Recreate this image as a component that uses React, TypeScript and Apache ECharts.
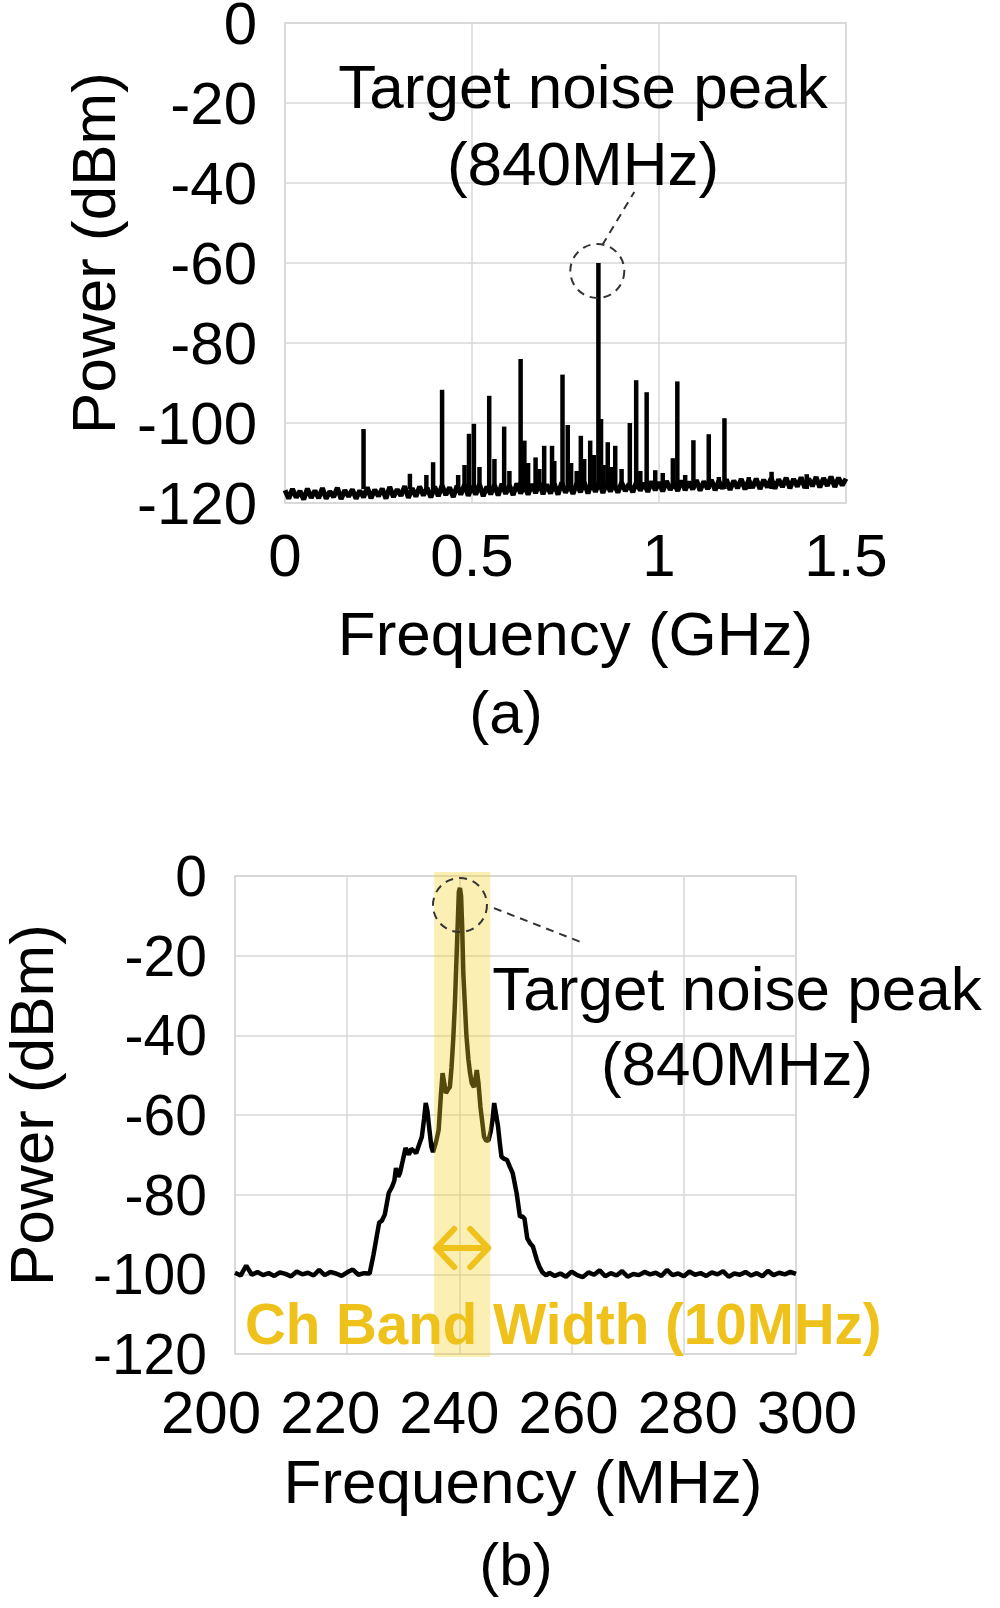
import React, { useEffect, useRef } from "react";
import * as echarts from "echarts";

const FONT = "'Liberation Sans', Arial, Helvetica, sans-serif";
const YELLOW = "#EEC21B";
const GRID_GRAY = "#d9d6d6";

// ---- (a) wide spectrum, 0 - 1.5 GHz ----
const floorAStart = 0;
const floorAStep = 0.01; // GHz
const floorA = [
  -116.8, -118.9, -116.5, -118.6, -117.0, -119.1, -116.4, -118.7, -116.9, -118.8,
  -116.3, -118.9, -117.1, -118.5, -116.2, -119.0, -116.8, -118.4, -116.6, -118.9,
  -116.9, -118.6, -116.1, -118.8, -116.7, -118.3, -116.4, -118.9, -116.0, -118.5,
  -116.6, -118.2, -115.8, -118.7, -116.3, -118.4, -115.9, -118.1, -116.2, -118.6,
  -115.9, -118.3, -115.6, -118.0, -116.1, -118.5, -115.7, -117.9, -115.4, -118.2,
  -115.8, -117.9, -115.3, -118.3, -115.9, -117.8, -115.5, -118.1, -115.2, -117.7,
  -115.6, -118.0, -115.1, -117.6, -115.7, -117.9, -115.3, -117.5, -115.0, -117.8,
  -115.4, -117.6, -115.2, -117.9, -114.9, -117.4, -115.5, -117.7, -115.1, -117.3,
  -114.8, -117.6, -115.0, -117.2, -114.6, -117.5, -114.9, -117.1, -115.3, -117.4,
  -114.9, -117.0, -115.2, -117.3, -114.7, -116.9, -115.0, -117.2, -114.6, -116.8,
  -114.8, -117.1, -114.5, -116.7, -114.9, -117.0, -114.4, -116.8, -114.7, -116.6,
  -114.3, -116.9, -114.6, -116.5, -114.2, -116.8, -114.5, -116.4, -114.1, -116.7,
  -114.4, -116.3, -114.0, -116.6, -114.3, -116.2, -113.9, -116.5, -114.2, -116.1,
  -113.8, -116.4, -114.1, -116.0, -113.7, -116.3, -114.0, -115.9, -113.6, -116.2,
  -113.9, -115.8, -113.5, -116.1, -113.8, -115.7, -113.4, -116.0, -113.7, -115.6,
  -113.9,
];
// [frequency GHz, peak dBm]
const spikesA: [number, number][] = [
  [0.21, -101.5], [0.334, -112.7], [0.378, -113], [0.396, -109.8], [0.42, -91.7],
  [0.463, -113], [0.48, -110.5], [0.492, -102.7], [0.505, -100.2], [0.52, -111],
  [0.546, -93.2], [0.56, -109], [0.586, -100.9], [0.6, -112], [0.63, -84],
  [0.64, -104.4], [0.65, -110], [0.67, -108.6], [0.68, -111.5], [0.693, -105.7],
  [0.714, -105.7], [0.72, -109.5], [0.742, -87.9], [0.756, -100.5], [0.765, -110],
  [0.78, -112], [0.791, -103.2], [0.8, -109], [0.816, -104.4], [0.826, -108],
  [0.838, -60], [0.845, -99], [0.852, -110.5], [0.863, -104.8], [0.872, -111],
  [0.883, -105.7], [0.9, -111.5], [0.922, -100], [0.939, -89.3], [0.95, -112],
  [0.967, -92.3], [0.99, -111.8], [1.01, -112.5], [1.037, -108.8], [1.049, -89.6],
  [1.07, -113], [1.092, -104.3], [1.133, -102.8], [1.16, -113.5], [1.175, -98.8],
  [1.24, -113.5], [1.301, -112.2], [1.395, -112.8],
];
const spikeBaseA = -116.5;
const circleA: [number, number] = [0.835, -62];

// ---- (b) zoomed spectrum, 200 - 300 MHz ----
const floorBLeftStart = 200; // MHz, 1 MHz step
const floorBLeft = [
  -99.6, -100.3, -97.8, -100.1, -99.4, -100.2, -99.7, -100.4, -99.5, -99.9,
  -100.5, -99.3, -100.0, -99.6, -100.3, -98.9, -100.2, -99.4, -99.8, -100.4,
  -99.5, -98.8, -100.1, -99.7,
];
// [frequency MHz, dBm]
const peakB: [number, number][] = [
  [224.0, -99.8], [224.7, -95], [225.2, -91], [225.7, -87], [226.2, -86.5],
  [226.7, -85], [227.4, -79.6], [228.0, -78], [228.4, -76.5], [228.7, -73.3],
  [229.1, -75.5], [229.4, -74.6], [229.9, -71.5], [230.4, -68.3], [231.0, -70],
  [231.4, -68.5], [231.7, -68.8], [232.3, -69.6], [232.8, -67.5], [233.3, -65.5],
  [233.7, -61], [234.0, -57], [234.3, -59], [234.6, -63], [235.0, -68],
  [235.3, -69.3], [235.8, -67], [236.3, -63.8], [236.7, -55], [237.0, -49.5],
  [237.3, -52], [237.6, -54.5], [238.0, -53.5], [238.3, -53], [238.6, -48],
  [238.9, -41], [239.2, -32], [239.4, -24], [239.7, -12], [239.9, -4],
  [240.1, -3], [240.3, -5], [240.5, -13], [240.7, -24.5], [241.0, -33],
  [241.25, -40], [241.6, -46], [241.9, -49.5], [242.2, -52], [242.6, -53],
  [242.9, -50.5], [243.1, -48.7], [243.4, -52], [243.75, -58], [244.1, -62],
  [244.4, -65.5], [244.8, -66.5], [245.2, -66.3], [245.6, -64], [245.9, -61.3],
  [246.2, -57], [246.5, -59.5], [246.9, -63], [247.2, -67], [247.5, -70.5],
  [248.0, -71], [248.5, -71.3], [249.0, -73], [249.5, -74.6], [250.2, -79.6],
  [250.8, -85.6], [251.2, -85.4], [251.6, -86], [252.1, -91], [252.6, -92.2],
  [253.1, -93], [253.8, -96.4], [254.3, -98.2], [254.8, -99.5], [255.5, -100.3],
];
const floorBRightStart = 256; // MHz, 1 MHz step
const floorBRight = [
  -99.6, -100.4, -99.8, -100.6, -99.3, -100.2, -100.7, -99.5, -100.1, -99.0,
  -100.5, -99.7, -100.3, -99.2, -100.6, -99.9, -100.2, -99.4, -100.0, -99.6,
  -100.4, -98.9, -100.2, -99.8, -100.5, -99.3, -100.1, -99.7, -100.4, -99.5,
  -100.0, -99.2, -100.6, -99.8, -100.1, -99.4, -100.3, -99.7, -100.5, -99.1,
  -100.2, -99.6, -100.0, -99.4, -99.9,
];
const bandB: [number, number] = [235.5, 245.5];
const arrowYB = -93.4;
const circleB: [number, number] = [240.1, -7.3];

const labelStyle = { fontFamily: FONT, fontSize: 60, color: "#000" };

const App: React.FC = () => {
  const chartRef = useRef<HTMLDivElement>(null);

  useEffect(() => {
    if (!chartRef.current) return;
    const chart = echarts.init(chartRef.current, undefined, { renderer: "svg" });

    const floorAData = floorA.map((v, i) => [floorAStart + i * floorAStep, v]);
    const bData = [
      ...floorBLeft.map((v, i) => [floorBLeftStart + i, v]),
      ...peakB,
      ...floorBRight.map((v, i) => [floorBRightStart + i, v]),
    ];

    const yAxisCommon = {
      type: "value" as const,
      min: -120,
      max: 0,
      interval: 20,
      axisLine: { show: false },
      axisTick: { show: false },
      splitLine: { lineStyle: { color: GRID_GRAY, width: 1.5 } },
      name: "Power (dBm)",
      nameLocation: "middle" as const,
      nameRotate: 90,
      nameTextStyle: { fontFamily: FONT, fontSize: 62, color: "#000", padding: [0, 0, 0, 20] },
      axisLabel: { ...labelStyle, margin: 28, padding: [14, 0, 0, 0] },
    };

    const option = {
      animation: false,
      grid: [
        {
          left: 285, top: 23, width: 561, height: 480,
          show: true, borderColor: GRID_GRAY, borderWidth: 1.5, outerBoundsMode: "none",
        },
        {
          left: 235, top: 876, width: 561, height: 478,
          show: true, borderColor: GRID_GRAY, borderWidth: 1.5, outerBoundsMode: "none",
        },
        { left: 211, top: 876, width: 596, height: 478, show: false, outerBoundsMode: "none" },
      ],
      xAxis: [
        {
          gridIndex: 0,
          type: "value",
          min: 0,
          max: 1.5,
          interval: 0.5,
          axisLine: { show: false },
          axisTick: { show: false },
          splitLine: { lineStyle: { color: GRID_GRAY, width: 1.5 } },
          axisLabel: { ...labelStyle, margin: 22 },
          name: "Frequency (GHz)",
          nameLocation: "middle",
          nameGap: 99,
          nameTextStyle: { fontFamily: FONT, fontSize: 62, color: "#000", padding: [0, 0, 0, 20] },
        },
        {
          gridIndex: 1,
          type: "value",
          min: 200,
          max: 300,
          interval: 20,
          axisLine: { show: false },
          axisTick: { show: false },
          splitLine: { lineStyle: { color: GRID_GRAY, width: 1.5 } },
          axisLabel: { show: false },
          name: "Frequency (MHz)",
          nameLocation: "middle",
          nameGap: 96,
          nameTextStyle: { fontFamily: FONT, fontSize: 62, color: "#000", padding: [0, 0, 0, 15] },
        },
        {
          // tick labels of (b) are set wider than its grid lines
          gridIndex: 2,
          type: "value",
          min: 200,
          max: 300,
          interval: 20,
          axisLine: { show: false },
          axisTick: { show: false },
          splitLine: { show: false },
          axisLabel: {
            ...labelStyle,
            fontFamily: "'Liberation Sans Narrow', " + FONT,
            margin: 28,
          },
        },
      ],
      yAxis: [
        { ...yAxisCommon, gridIndex: 0, nameGap: 161 },
        {
          ...yAxisCommon,
          gridIndex: 1,
          nameGap: 173,
          axisLabel: { ...yAxisCommon.axisLabel, fontSize: 57 },
        },
        { gridIndex: 2, type: "value", min: -120, max: 0, show: false },
      ],
      series: [
        {
          type: "line",
          xAxisIndex: 0,
          yAxisIndex: 0,
          data: floorAData,
          showSymbol: false,
          lineStyle: { color: "#000", width: 5 },
          z: 2,
        },
        {
          type: "custom",
          xAxisIndex: 0,
          yAxisIndex: 0,
          data: spikesA,
          encode: { x: 0, y: 1 },
          z: 3,
          renderItem: (_params: any, api: any) => {
            const top = api.coord([api.value(0), api.value(1)]);
            const base = api.coord([api.value(0), spikeBaseA]);
            return {
              type: "line",
              shape: { x1: base[0], y1: base[1], x2: top[0], y2: top[1] },
              style: { stroke: "#000", lineWidth: 4.5 },
            };
          },
        },
        {
          type: "line",
          xAxisIndex: 1,
          yAxisIndex: 1,
          data: bData,
          showSymbol: false,
          lineStyle: { color: "#000", width: 4.5 },
          z: 2,
        },
        {
          // channel band, laid over the trace
          type: "custom",
          xAxisIndex: 1,
          yAxisIndex: 1,
          data: [[bandB[0], bandB[1], -60]],
          encode: { x: [0, 1], y: 2 },
          z: 5,
          renderItem: (_params: any, api: any) => {
            const p0 = api.coord([api.value(0), 0]);
            const p1 = api.coord([api.value(1), -120]);
            return {
              type: "rect",
              shape: { x: p0[0], y: p0[1] - 4, width: p1[0] - p0[0], height: p1[1] - p0[1] + 7 },
              style: { fill: "rgba(243,208,40,0.35)" },
            };
          },
        },
      ],
    };

    chart.setOption(option);

    const ca = chart.convertToPixel({ gridIndex: 0 }, circleA) as number[];
    const cb = chart.convertToPixel({ gridIndex: 1 }, circleB) as number[];
    const al = chart.convertToPixel({ gridIndex: 1 }, [bandB[0], arrowYB]) as number[];
    const ar = chart.convertToPixel({ gridIndex: 1 }, [bandB[1], arrowYB]) as number[];
    const dash = { stroke: "#333", lineWidth: 2, lineDash: [8, 6], fill: "none" };
    const arrowStyle = { stroke: YELLOW, lineWidth: 6, lineCap: "round", lineJoin: "round", fill: "none" };
    const txt = (text: string, x: number, y: number, extra: any = {}) => ({
      type: "text",
      z: 10,
      style: {
        text,
        x,
        y,
        fontFamily: FONT,
        fontSize: 62,
        fill: "#000",
        align: "center",
        verticalAlign: "middle",
        textAlign: "center",
        textVerticalAlign: "middle",
        ...extra,
      },
    });

    chart.setOption({
      graphic: [
        { type: "circle", z: 10, shape: { cx: ca[0], cy: ca[1], r: 27 }, style: dash },
        { type: "line", z: 10, shape: { x1: ca[0] + 5, y1: ca[1] - 26, x2: ca[0] + 37, y2: ca[1] - 79 }, style: dash },
        txt("Target noise peak", 583, 86),
        txt("(840MHz)", 583, 163),
        txt("(a)", 506, 712, { fontSize: 60 }),
        { type: "circle", z: 10, shape: { cx: cb[0], cy: cb[1], r: 27 }, style: dash },
        { type: "line", z: 10, shape: { x1: cb[0] + 34, y1: cb[1] + 3, x2: cb[0] + 121, y2: cb[1] + 37 }, style: dash },
        txt("Target noise peak", 737, 988),
        txt("(840MHz)", 737, 1063),
        txt("(b)", 516, 1564, { fontSize: 60 }),
        { type: "line", z: 10, shape: { x1: al[0] + 3, y1: al[1], x2: ar[0] - 3, y2: ar[1] }, style: arrowStyle },
        {
          type: "polyline",
          z: 10,
          shape: { points: [[al[0] + 20, al[1] - 19], [al[0] + 2, al[1]], [al[0] + 20, al[1] + 19]] },
          style: arrowStyle,
        },
        {
          type: "polyline",
          z: 10,
          shape: { points: [[ar[0] - 20, ar[1] - 19], [ar[0] - 2, ar[1]], [ar[0] - 20, ar[1] + 19]] },
          style: arrowStyle,
        },
        txt("Ch Band Width (10MHz)", 245, 1324, {
          fontSize: 56.5,
          fontWeight: "bold",
          fill: YELLOW,
          align: "left",
          textAlign: "left",
        }),
      ],
    });

    return () => {
      chart.dispose();
    };
  }, []);

  return (
    <div
      ref={chartRef}
      style={{ position: "absolute", left: 0, top: 0, width: 1000, height: 1608, background: "#fff" }}
    />
  );
};

export default App;
